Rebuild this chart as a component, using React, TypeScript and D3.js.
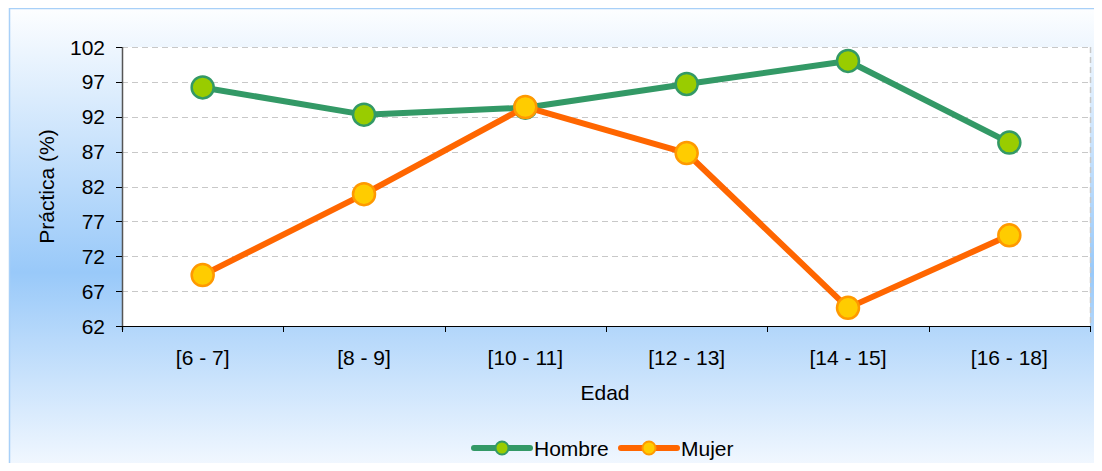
import React from 'react';
import * as d3 from 'd3';

const categories = ['[6 - 7]', '[8 - 9]', '[10 - 11]', '[12 - 13]', '[14 - 15]', '[16 - 18]'];
const hombre = [96.2, 92.3, 93.3, 96.7, 100.0, 88.3];
const mujer = [69.3, 80.9, 93.4, 86.8, 64.6, 75.0];
const yTicks = [62, 67, 72, 77, 82, 87, 92, 97, 102];

const W = 1102;
const H = 471;
const margin = { top: 47, right: 12, bottom: 145, left: 122 };
const FONT = '"Liberation Sans", Arial, sans-serif';
const FS = 21;

const series = [
  { name: 'Hombre', values: hombre, line: '#339966', fill: '#99cc00', stroke: '#339966' },
  { name: 'Mujer', values: mujer, line: '#ff6600', fill: '#ffcc00', stroke: '#ff9900' },
];

export default function App() {
  const x0 = margin.left;
  const x1 = W - margin.right;
  const y0 = H - margin.bottom;
  const y1 = margin.top;

  const x = d3.scaleBand().domain(categories).range([x0, x1]).padding(0);
  const y = d3.scaleLinear().domain([62, 102]).range([y0, y1]);
  const cx = (c: string) => (x(c) as number) + x.bandwidth() / 2;

  const line = d3
    .line<number>()
    .x((_, i) => cx(categories[i]))
    .y(d => y(d));

  const boundaries = categories.map(c => x(c) as number).concat([x1]);

  return (
    <div style={{ margin: -8 }}>
      <svg width={W} height={H} style={{ display: 'block', fontFamily: FONT }}>
        <defs>
          <linearGradient id="bg" x1="0" y1="8" x2="0" y2="480" gradientUnits="userSpaceOnUse">
            <stop offset="0" stopColor="#fdfeff" />
            <stop offset="0.56" stopColor="#99c9f9" />
            <stop offset="1" stopColor="#f8fbff" />
          </linearGradient>
        </defs>
        <rect x={0} y={0} width={W} height={H} fill="#ffffff" />
        <rect x={9.5} y={8.5} width={W + 10} height={H + 10} fill="url(#bg)" stroke="#a8d0f8" strokeWidth={1.5} />

        {/* plot area */}
        <rect x={x0} y={y1} width={x1 - x0} height={y0 - y1} fill="#ffffff" />

        {/* grid */}
        {yTicks.slice(1).map(t => (
          <line
            key={t}
            x1={x0}
            x2={x1}
            y1={Math.round(y(t)) + 0.5}
            y2={Math.round(y(t)) + 0.5}
            stroke="#c8c8c8"
            strokeDasharray="6,4"
          />
        ))}
        <line x1={x1 + 0.5} x2={x1 + 0.5} y1={y1} y2={y0} stroke="#c8c8c8" strokeDasharray="6,4" strokeWidth={1.5} />

        {/* y axis */}
        <line x1={x0 + 0.5} x2={x0 + 0.5} y1={y1} y2={y0 + 4} stroke="#555" strokeWidth={1.5} />
        {yTicks.map(t => (
          <g key={t}>
            <line x1={x0 - 6} x2={x0} y1={Math.round(y(t)) + 0.5} y2={Math.round(y(t)) + 0.5} stroke="#000" />
            <text x={x0 - 17} y={y(t)} dy="0.36em" textAnchor="end" fontSize={FS} fill="#000">
              {t}
            </text>
          </g>
        ))}

        {/* x axis */}
        <line x1={x0} x2={x1} y1={y0 + 0.5} y2={y0 + 0.5} stroke="#000" />
        {boundaries.map((b, i) => (
          <line key={i} x1={Math.round(b) + 0.5} x2={Math.round(b) + 0.5} y1={y0} y2={y0 + 6} stroke="#000" />
        ))}
        {categories.map(c => (
          <text key={c} x={cx(c)} y={y0 + 39} textAnchor="middle" fontSize={FS} fill="#000">
            {c}
          </text>
        ))}

        {/* axis titles */}
        <text x={605} y={400} textAnchor="middle" fontSize={FS} fill="#000">
          Edad
        </text>
        <text
          transform={`translate(54,${(y0 + y1) / 2}) rotate(-90)`}
          textAnchor="middle"
          fontSize={FS}
          fill="#000"
        >
          Práctica (%)
        </text>

        {/* series */}
        {series.map(s => (
          <g key={s.name}>
            <path d={line(s.values) || ''} fill="none" stroke={s.line} strokeWidth={6} strokeLinejoin="round" />
            {s.values.map((v, i) => (
              <circle key={i} cx={cx(categories[i])} cy={y(v)} r={11} fill={s.fill} stroke={s.stroke} strokeWidth={2.5} />
            ))}
          </g>
        ))}

        {/* legend */}
        {series.map((s, i) => {
          const lx = i === 0 ? 474 : 621;
          const ly = 448;
          return (
            <g key={s.name}>
              <line x1={lx} x2={lx + 56} y1={ly} y2={ly} stroke={s.line} strokeWidth={6} strokeLinecap="round" />
              <circle cx={lx + 28} cy={ly} r={6.5} fill={s.fill} stroke={s.stroke} strokeWidth={2} />
              <text x={lx + 60} y={ly} dy="0.36em" fontSize={FS} fill="#000">
                {s.name}
              </text>
            </g>
          );
        })}
      </svg>
    </div>
  );
}
